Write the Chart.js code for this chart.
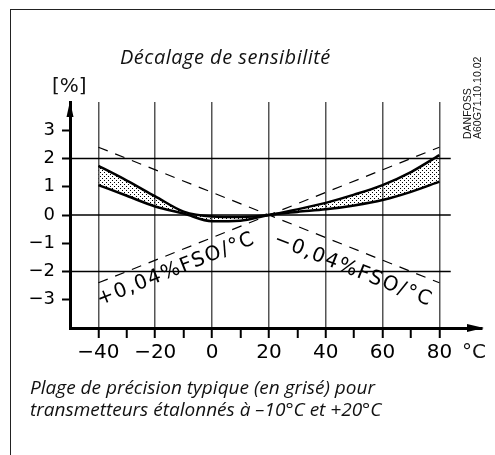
<!DOCTYPE html>
<html lang="fr">
<head>
<meta charset="utf-8">
<title>Décalage de sensibilité</title>
<script src="https://cdn.jsdelivr.net/npm/chart.js@4.4.1/dist/chart.umd.min.js"></script>
<style>
  html, body { margin: 0; padding: 0; background: #fff; }
  #cadre { position: relative; width: 495px; height: 455px; overflow: hidden; }
  #bord { position: absolute; left: 10px; top: 9px; width: 600px; height: 600px;
          border-left: 1px solid #222; border-top: 1px solid #222; }
  canvas { position: absolute; left: 0; top: 0; }
  .txt { position: absolute; white-space: nowrap; color: #111; }
  #titre { left: 120px; top: 43px; font: italic 20px "Open Sans"; letter-spacing: 0.5px; }
  #unite { left: 52px; top: 73px; font: 20px "DejaVu Sans"; }
  #degres { left: 462px; top: 339px; font: 20px "DejaVu Sans"; }
  #legende { left: 30px; top: 376px; font: italic 19px "Open Sans"; line-height: 22px; }
  #ref { left: 463px; top: 139px; font: 10.5px "Liberation Sans"; line-height: 9.5px;
         transform-origin: 0 0; transform: rotate(-90deg); }
</style>
</head>
<body>
<div id="cadre">
  <div id="bord"></div>
  <canvas id="graphe" width="495" height="455"></canvas>
  <div class="txt" id="titre">Décalage de sensibilité</div>
  <div class="txt" id="unite">[%]</div>
  <div class="txt" id="degres">°C</div>
  <div class="txt" id="legende">Plage de précision typique (en grisé) pour<br>transmetteurs étalonnés à –10°C et +20°C</div>
  <div class="txt" id="ref">DANFOSS<br>A60G71.10.10.02</div>
</div>
<script>
// Températures (°C) et limites de la zone grisée (%)
const temperatures = [-40, -30, -20, -10, 0, 10, 20, 30, 40, 50, 60, 70, 80];
const bandeHaute = [1.74, 1.22, 0.66, 0.12, -0.05, -0.07, 0, 0.2, 0.43, 0.72, 1.06, 1.52, 2.12];
const bandeBasse = [1.06, 0.68, 0.30, 0.05, -0.22, -0.2, 0, 0.11, 0.2, 0.34, 0.53, 0.82, 1.18];

// Droites ±0,04 %FSO/°C
const xPente = [-40, 80];
const pentePlus = [-2.4, 2.4];
const penteMoins = [2.4, -2.4];
const textePlus = "+0,04%FSO/°C";
const texteMoins = "−0,04%FSO/°C";

// Lignes horizontales de la grille
const yGrille = [-2, 0, 2];
const xGrilleLim = [-50, 84];

// Graduations
const xTicks = [-40, -30, -20, -10, 0, 10, 20, 30, 40, 50, 60, 70, 80];
const xTickLabels = ["−40", "", "−20", "", "0", "", "20", "", "40", "", "60", "", "80"];
const yTicks = [-3, -2, -1, 0, 1, 2, 3];
const yTickLabels = ["−3", "−2", "−1", "0", "1", "2", "3"];

// motif pointillé pour la zone grisée
function motifPoints() {
  const c = document.createElement("canvas");
  c.width = 4; c.height = 4;
  const g = c.getContext("2d");
  g.fillStyle = "#000";
  g.fillRect(0, 0, 1, 1);
  g.fillRect(2, 2, 1, 1);
  return g.createPattern(c, "repeat");
}

const datasets = [];
datasets.push({
  data: temperatures.map((t, i) => ({ x: t, y: bandeHaute[i] })),
  borderColor: "#000", borderWidth: 2.5, pointRadius: 0,
  cubicInterpolationMode: "monotone",
  fill: "+1", backgroundColor: motifPoints()
});
datasets.push({
  data: temperatures.map((t, i) => ({ x: t, y: bandeBasse[i] })),
  borderColor: "#000", borderWidth: 2.5, pointRadius: 0,
  cubicInterpolationMode: "monotone", fill: false
});
[pentePlus, penteMoins].forEach(p => {
  datasets.push({
    data: xPente.map((x, i) => ({ x: x, y: p[i] })),
    borderColor: "#000", borderWidth: 1.2, borderDash: [10, 8],
    pointRadius: 0, fill: false
  });
});
yGrille.forEach(y => {
  datasets.push({
    data: xGrilleLim.map(x => ({ x: x, y: y })),
    borderColor: "#000", borderWidth: 1.3, pointRadius: 0, fill: false
  });
});

// flèches des axes + textes le long des droites
const decor = {
  id: "decor",
  afterDraw(chart) {
    const ctx = chart.ctx;
    const sx = chart.scales.x, sy = chart.scales.y;
    const a = chart.chartArea;
    ctx.save();
    ctx.fillStyle = "#000";
    // flèche verticale
    ctx.beginPath();
    ctx.moveTo(a.left, a.top - 1);
    ctx.lineTo(a.left - 3.5, a.top + 15);
    ctx.lineTo(a.left + 3.5, a.top + 15);
    ctx.closePath();
    ctx.fill();
    // flèche horizontale
    ctx.beginPath();
    ctx.moveTo(a.right + 2, a.bottom);
    ctx.lineTo(a.right - 15, a.bottom - 4);
    ctx.lineTo(a.right - 15, a.bottom + 4);
    ctx.closePath();
    ctx.fill();

    // textes inclinés
    ctx.font = "20px 'DejaVu Sans'";
    ctx.letterSpacing = "1.5px";
    ctx.textBaseline = "alphabetic";
    const ang = p => Math.atan2(sy.getPixelForValue(p[1]) - sy.getPixelForValue(p[0]),
                                sx.getPixelForValue(xPente[1]) - sx.getPixelForValue(xPente[0]));
    ctx.save();
    ctx.translate(sx.getPixelForValue(-39.5), sy.getPixelForValue(-3.2));
    ctx.rotate(ang(pentePlus));
    ctx.fillText(textePlus, 0, 0);
    ctx.restore();
    ctx.save();
    ctx.translate(sx.getPixelForValue(21.4), sy.getPixelForValue(-1.02));
    ctx.rotate(ang(penteMoins));
    ctx.fillText(texteMoins, 0, 0);
    ctx.restore();
    ctx.restore();
  }
};

new Chart(document.getElementById("graphe"), {
  type: "line",
  data: { datasets: datasets },
  options: {
    responsive: false,
    animation: false,
    layout: { padding: { top: 102, right: 13, left: 0, bottom: 0 } },
    plugins: { legend: { display: false }, tooltip: { enabled: false } },
    scales: {
      x: {
        type: "linear", min: -50, max: 95,
        afterBuildTicks: s => { s.ticks = xTicks.map(v => ({ value: v })); },
        afterFit: s => { s.height = 127; },
        border: { display: true, color: "#000", width: 3 },
        grid: {
          color: c => (c.tick && c.tick.value % 20 === 0) ? "#555" : "rgba(0,0,0,0)",
          lineWidth: 1.5,
          tickColor: "#000", tickWidth: 2, tickLength: 10
        },
        ticks: {
          color: "#000", padding: 3, maxRotation: 0, autoSkip: false,
          font: { family: "DejaVu Sans", size: 20 },
          callback: v => xTickLabels[xTicks.indexOf(v)]
        }
      },
      y: {
        min: -4, max: 4,
        afterBuildTicks: s => { s.ticks = yTicks.map(v => ({ value: v })); },
        afterFit: s => { s.width = 70; },
        border: { display: true, color: "#000", width: 3 },
        grid: { drawOnChartArea: false, tickColor: "#000", tickWidth: 2, tickLength: 8 },
        ticks: {
          color: "#000", padding: 7,
          font: { family: "DejaVu Sans", size: 18 },
          callback: v => yTickLabels[yTicks.indexOf(v)]
        }
      }
    }
  },
  plugins: [decor]
});
</script>
</body>
</html>
